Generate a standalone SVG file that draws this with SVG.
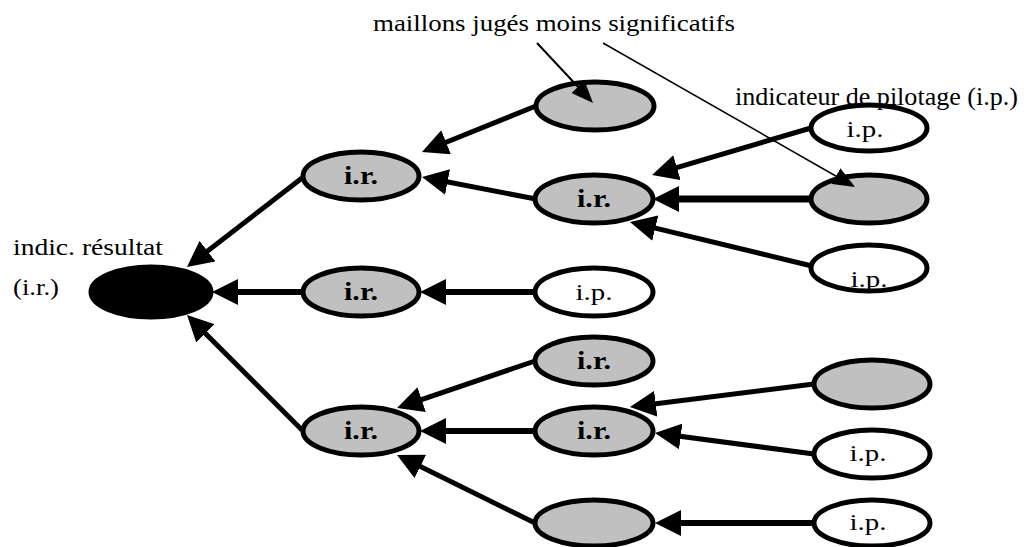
<svg xmlns="http://www.w3.org/2000/svg" width="1029" height="547" viewBox="0 0 1029 547">
<style>
.n ellipse{stroke:#000;stroke-width:5}
.g{fill:#c0c0c0}
.w{fill:#fff}
.b{fill:#000}
text{font-family:'Liberation Serif','Times New Roman',Times,serif;fill:#000}
.ir{font-weight:bold;font-size:26px;text-anchor:middle}
.ip{font-size:24px;text-anchor:middle}
.c line{stroke:#000;fill:none}
.m5{stroke-width:5;marker-end:url(#ah)}
.m6{stroke-width:6;marker-end:url(#ah)}
.m7{stroke-width:7;marker-end:url(#ah)}
.t{marker-end:url(#ahs)}
</style>
<defs>
<marker id="ah" markerUnits="userSpaceOnUse" markerWidth="26" markerHeight="26" refX="18" refY="13" orient="auto" viewBox="0 0 26 26">
<path d="M0,0 L26,13 L0,26 z" fill="#000"/>
</marker>
<marker id="ahs" markerUnits="userSpaceOnUse" markerWidth="22" markerHeight="18" refX="17" refY="9" orient="auto" viewBox="0 0 22 18">
<path d="M0,0 L22,9 L0,18 z" fill="#000"/>
</marker>
</defs>

<g id="labels">
<text x="373" y="31" font-size="24" textLength="362" lengthAdjust="spacingAndGlyphs">maillons jugés moins significatifs</text>
<text x="13" y="255" font-size="24" textLength="150" lengthAdjust="spacingAndGlyphs">indic. résultat</text>
<text x="13" y="295" font-size="24" textLength="46" lengthAdjust="spacingAndGlyphs">(i.r.)</text>
</g>

<g class="n">
<g id="root"><ellipse class="b" cx="151" cy="292" rx="60" ry="25"/></g>
<g id="ir-a"><ellipse class="g" cx="361" cy="176" rx="58" ry="24"/><text class="ir" x="361" y="184" textLength="34" lengthAdjust="spacingAndGlyphs">i.r.</text></g>
<g id="ir-b"><ellipse class="g" cx="361" cy="292" rx="58" ry="24"/><text class="ir" x="361" y="300" textLength="34" lengthAdjust="spacingAndGlyphs">i.r.</text></g>
<g id="ir-c"><ellipse class="g" cx="361" cy="431" rx="58" ry="24"/><text class="ir" x="361" y="439" textLength="34" lengthAdjust="spacingAndGlyphs">i.r.</text></g>
<g id="grey-a"><ellipse class="g" cx="595" cy="106" rx="59" ry="24"/></g>
<g id="ir-d"><ellipse class="g" cx="594" cy="199" rx="59" ry="24"/><text class="ir" x="594" y="207" textLength="34" lengthAdjust="spacingAndGlyphs">i.r.</text></g>
<g id="ip-a"><ellipse class="w" cx="594" cy="292" rx="59" ry="24"/><text class="ip" x="594" y="300" textLength="37" lengthAdjust="spacingAndGlyphs">i.p.</text></g>
<g id="ir-e"><ellipse class="g" cx="594" cy="361" rx="59" ry="24"/><text class="ir" x="594" y="369" textLength="34" lengthAdjust="spacingAndGlyphs">i.r.</text></g>
<g id="ir-f"><ellipse class="g" cx="594" cy="431" rx="59" ry="24"/><text class="ir" x="594" y="439" textLength="34" lengthAdjust="spacingAndGlyphs">i.r.</text></g>
<g id="grey-b"><ellipse class="g" cx="594" cy="523" rx="59" ry="23"/></g>
<g id="ip-b"><ellipse class="w" cx="869" cy="128" rx="58" ry="23"/><text class="ip" x="865" y="137" textLength="37" lengthAdjust="spacingAndGlyphs">i.p.</text></g>
<g id="grey-c"><ellipse class="g" cx="869" cy="199" rx="58" ry="24"/></g>
<g id="ip-c"><ellipse class="w" cx="869" cy="268" rx="58" ry="23"/><text class="ip" x="869" y="287" textLength="37" lengthAdjust="spacingAndGlyphs">i.p.</text></g>
<g id="grey-d"><ellipse class="g" cx="872" cy="384" rx="58" ry="24"/></g>
<g id="ip-d"><ellipse class="w" cx="872" cy="454" rx="58" ry="24"/><text class="ip" x="868" y="461" textLength="37" lengthAdjust="spacingAndGlyphs">i.p.</text></g>
<g id="ip-e"><ellipse class="w" cx="872" cy="523" rx="58" ry="23"/><text class="ip" x="868" y="530" textLength="37" lengthAdjust="spacingAndGlyphs">i.p.</text></g>
</g>

<g id="label-ip">
<text x="735" y="105" font-size="25" textLength="283" lengthAdjust="spacingAndGlyphs">indicateur de pilotage (i.p.)</text>
</g>

<g id="connectors" class="c">
<line class="m5" x1="302" y1="178" x2="193.3" y2="262.1"/>
<line class="m6" x1="302" y1="292" x2="220" y2="292"/>
<line class="m5" x1="302" y1="430" x2="192.7" y2="320.7"/>
<line class="m5" x1="536" y1="106" x2="429.4" y2="149"/>
<line class="m5" x1="536" y1="199" x2="429.9" y2="178.5"/>
<line class="m6" x1="535" y1="292" x2="428" y2="292"/>
<line class="m5" x1="811" y1="128" x2="659.7" y2="172.7"/>
<line class="m7" x1="811" y1="199" x2="661" y2="199"/>
<line class="m5" x1="812" y1="266" x2="637.8" y2="223.9"/>
<line class="m5" x1="535" y1="361" x2="404.6" y2="405.4"/>
<line class="m6" x1="535" y1="431" x2="428" y2="431"/>
<line class="m5" x1="535" y1="523" x2="404.2" y2="458.5"/>
<line class="m5" x1="814" y1="384" x2="637.9" y2="406"/>
<line class="m5" x1="814" y1="454" x2="662.9" y2="434"/>
<line class="m6" x1="814" y1="523" x2="663" y2="523"/>
<line class="t" stroke-width="2" x1="537" y1="43" x2="589.6" y2="99.3"/>
<line class="t" stroke-width="1.5" x1="603" y1="43" x2="850.7" y2="184.5"/>
</g>
</svg>
